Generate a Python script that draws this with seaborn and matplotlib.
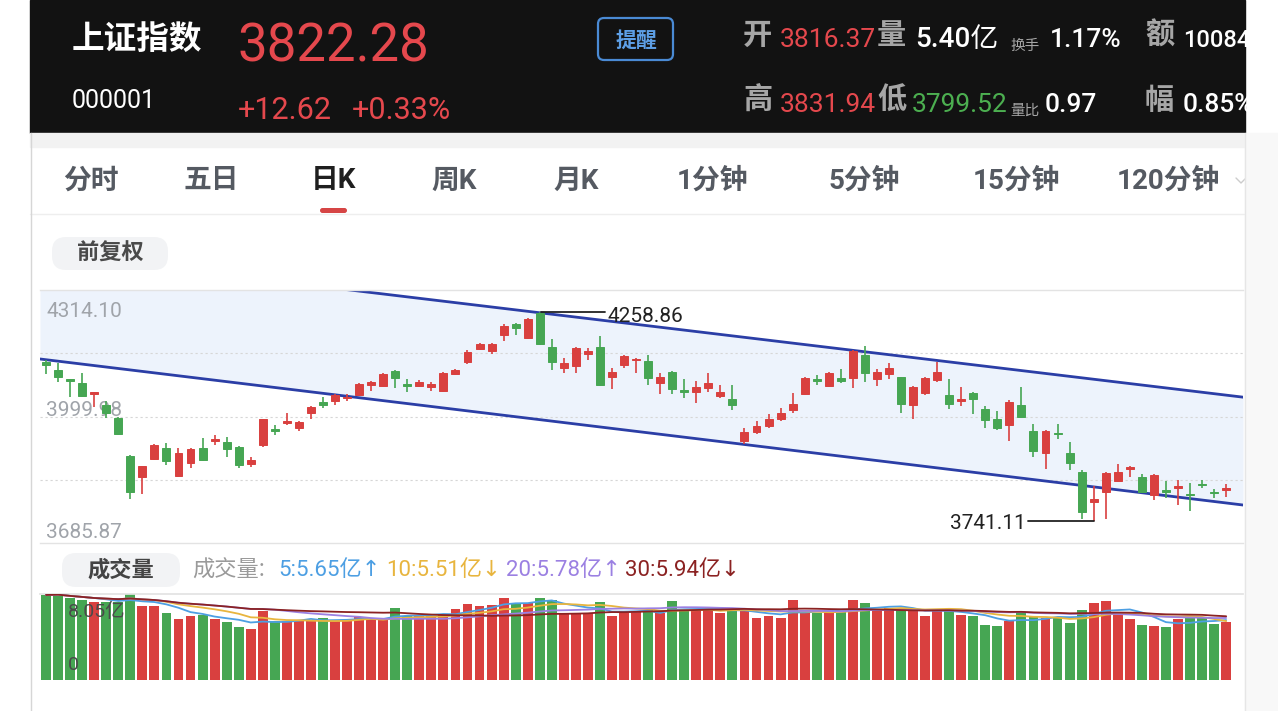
import numpy as np
import pandas as pd
import matplotlib
matplotlib.use('Agg')
import matplotlib.pyplot as plt
import seaborn as sns
from matplotlib.patches import FancyBboxPatch, Rectangle

# daily candles, oldest first
opens = [4135.3, 4115.4, 4093.1, 4083.2, 4055.8, 4028.6, 3997.2, 3901.9, 3849.8, 3894.4,
         3921.8, 3852.2, 3884.5, 3921.8, 3939.1, 3936.6, 3924.2, 3882.0, 3929.2, 3968.9,
         3983.9, 3971.4, 4008.7, 4036.0, 4038.5, 4046.0, 4053.4, 4078.2, 4075.7, 4112.9,
         4080.6, 4075.7, 4073.2, 4063.3, 4105.5, 4135.3, 4167.6, 4162.6, 4202.4, 4229.7,
         4194.9, 4257.0, 4172.6, 4120.4, 4125.4, 4155.2, 4172.6, 4098.0, 4127.9, 4140.3,
         4137.8, 4083.2, 4110.5, 4065.8, 4060.8, 4070.7, 4050.9, 4043.4, 3939.1, 3961.5,
         3976.4, 3993.7, 4016.1, 4055.8, 4093.1, 4075.7, 4095.6, 4095.6, 4152.7, 4093.1,
         4105.5, 4098.0, 4028.6, 4058.3, 4090.6, 4053.4, 4038.5, 4058.3, 4018.6, 3993.7,
         3978.9, 4028.6, 3964.0, 3909.3, 3959.0, 3909.3, 3862.2, 3787.6, 3812.5, 3839.8,
         3869.6, 3849.8, 3804.9, 3817.4, 3822.4, 3807.5, 3832.4, 3812.0, 3816.37]
closes = [4127.9, 4098.0, 4088.1, 4050.9, 4060.8, 4008.7, 3956.5, 3812.5, 3877.1, 3929.2,
          3889.5, 3909.3, 3919.3, 3891.9, 3944.1, 3919.3, 3879.6, 3891.9, 3993.7, 3964.0,
          3988.8, 3986.3, 4023.6, 4028.6, 4053.4, 4048.4, 4080.6, 4085.6, 4105.5, 4095.6,
          4075.7, 4085.6, 4080.6, 4108.0, 4115.4, 4160.2, 4180.0, 4180.0, 4224.9, 4219.8,
          4242.1, 4180.0, 4135.3, 4132.8, 4170.1, 4162.6, 4078.2, 4110.5, 4150.2, 4142.8,
          4095.6, 4098.0, 4068.3, 4060.8, 4073.2, 4083.2, 4060.8, 4028.6, 3961.5, 3976.4,
          3993.7, 4008.7, 4031.0, 4095.6, 4088.1, 4108.0, 4088.1, 4162.6, 4108.0, 4110.5,
          4120.4, 4031.0, 4073.2, 4095.6, 4110.5, 4031.0, 4043.4, 4043.4, 3991.2, 3971.4,
          4036.0, 3998.7, 3914.3, 3964.0, 3956.5, 3884.5, 3762.8, 3795.1, 3859.7, 3862.2,
          3874.6, 3812.5, 3854.8, 3812.5, 3827.4, 3805.0, 3829.9, 3809.66, 3822.28]
highs = [4140.3, 4132.8, 4093.5, 4108.0, 4061.5, 4038.5, 3998.5, 3904.4, 3878.0, 3931.6,
         3934.1, 3921.8, 3921.8, 3946.6, 3954.1, 3949.1, 3925.5, 3899.4, 3995.0, 3978.9,
         4008.7, 3988.0, 4025.0, 4048.4, 4055.8, 4055.8, 4083.2, 4087.0, 4107.0, 4115.4,
         4093.1, 4090.6, 4085.6, 4110.5, 4117.9, 4165.1, 4182.5, 4182.5, 4229.7, 4231.0,
         4244.6, 4258.86, 4192.4, 4145.2, 4172.6, 4170.1, 4199.9, 4120.4, 4152.7, 4145.2,
         4152.7, 4108.0, 4112.9, 4093.1, 4088.1, 4108.0, 4078.2, 4078.2, 3971.4, 3988.8,
         4006.2, 4021.1, 4058.3, 4097.0, 4103.0, 4110.0, 4117.9, 4165.1, 4175.1, 4117.9,
         4132.8, 4099.0, 4075.7, 4098.0, 4135.3, 4093.1, 4073.2, 4060.8, 4026.1, 4013.6,
         4040.9, 4073.2, 3981.3, 3966.4, 3981.3, 3936.6, 3867.1, 3827.4, 3861.0, 3882.0,
         3877.1, 3857.2, 3856.0, 3839.8, 3842.3, 3834.9, 3842.3, 3820.0, 3831.94]
lows = [4105.5, 4085.6, 4048.4, 4048.4, 4023.6, 3996.2, 3954.0, 3795.1, 3807.5, 3891.9,
        3879.6, 3849.8, 3872.1, 3890.0, 3929.2, 3899.4, 3872.1, 3874.6, 3924.2, 3954.1,
        3978.9, 3964.0, 3993.7, 4021.1, 4028.6, 4038.5, 4050.9, 4063.3, 4074.0, 4070.7,
        4060.8, 4073.2, 4063.3, 4062.0, 4103.0, 4130.4, 4165.1, 4155.2, 4187.5, 4202.4,
        4192.4, 4178.0, 4115.4, 4108.0, 4108.0, 4140.3, 4075.7, 4068.3, 4120.4, 4108.0,
        4078.2, 4055.8, 4055.8, 4046.0, 4033.5, 4060.8, 4046.0, 4016.1, 3931.6, 3956.5,
        3971.4, 3988.8, 4008.7, 4053.4, 4078.2, 4073.2, 4083.2, 4070.7, 4085.6, 4075.7,
        4093.1, 4008.7, 3993.7, 4053.4, 4085.6, 4018.6, 4026.1, 4006.2, 3971.4, 3966.4,
        3939.1, 3996.2, 3899.4, 3869.6, 3944.1, 3867.1, 3745.5, 3741.11, 3745.0, 3837.3,
        3849.8, 3811.0, 3792.6, 3797.6, 3780.2, 3765.3, 3822.4, 3797.6, 3799.52]
# volume in 亿
volumes = [7.96, 8.02, 7.64, 7.49, 7.27, 7.33, 7.27, 8.05, 6.92, 6.92,
           6.23, 5.69, 6.01, 6.07, 5.69, 5.44, 4.97, 4.75, 6.48, 5.50,
           5.50, 5.54, 5.57, 5.82, 5.60, 5.63, 5.91, 5.69, 5.69, 6.76,
           6.01, 6.01, 5.98, 6.13, 6.64, 7.08, 6.92, 7.01, 7.71, 7.17,
           7.17, 7.71, 7.49, 6.23, 6.23, 6.23, 7.33, 5.98, 6.23, 6.38,
           6.54, 6.23, 7.39, 6.54, 6.54, 6.70, 6.23, 6.60, 6.54, 5.82,
           6.01, 5.76, 7.49, 6.54, 6.23, 6.23, 6.38, 7.49, 7.17, 6.54,
           6.70, 6.54, 6.70, 6.01, 6.54, 6.54, 6.07, 5.98, 5.19, 5.03,
           5.50, 6.38, 5.91, 5.82, 5.91, 5.38, 6.54, 7.17, 7.39, 6.23,
           5.69, 5.13, 5.06, 4.97, 5.69, 5.91, 5.76, 5.28, 5.40]

# hand-drawn channel (values at the two ends of the x range)
channel_x = [-0.5, 99.4]
channel_upper = [4406.5, 4048.0]
channel_lower = [4142.8, 3780.2]

price_top, price_bottom = 4314.10, 3685.87
vol_max = 8.05

tabs = ['分时', '五日', '日K', '周K', '月K', '1分钟', '5分钟', '15分钟', '120分钟']
tab_x = [91, 211, 333, 454, 576, 712, 864, 1016, 1168]

ma_periods = [5, 10, 20, 30]
ma_colors = ['#4d9fe3', '#e8b53e', '#9b80e2', '#8b2222']
ma_labels = ['5:5.65亿↑', '10:5.51亿↓', '20:5.78亿↑', '30:5.94亿↓']
ma_label_x = [278, 386, 506, 625]

RED = '#d9403f'
GREEN = '#46a653'

sns.set_theme(style='white')
CJK = ['Noto Sans CJK SC', 'DejaVu Sans']
NUM = ['Roboto', 'Noto Sans CJK SC', 'DejaVu Sans']
ARROWNUM = ['Roboto', 'DejaVu Sans', 'Noto Sans CJK SC']
plt.rcParams['font.family'] = NUM

W, H = 1278, 711
fig = plt.figure(figsize=(W / 100, H / 100), dpi=100, facecolor='white')


def box(x0, y0, x1, y1):
    return [x0 / W, 1 - y1 / H, (x1 - x0) / W, (y1 - y0) / H]


# ---- background layer in pixel coordinates
bg = fig.add_axes([0, 0, 1, 1], zorder=0)
bg.set_xlim(0, W)
bg.set_ylim(H, 0)
bg.axis('off')

header = Rectangle((30, 0), 1215, 133, color='#121212', zorder=1)
bg.add_patch(header)
bg.add_patch(Rectangle((30, 133), 1215, 14, color='#f2f2f2', zorder=1))
bg.plot([30, 1245], [213.5, 213.5], color='#eeeeee', lw=1, zorder=1)
bg.plot([1236, 1241, 1246], [178, 183, 178], color='#cccccc', lw=1, zorder=1)
bg.add_patch(Rectangle((1245, 133), 33, 578, color='#f8f8f8', zorder=2))
bg.plot([1245, 1245], [133, 711], color='#e6e6e6', lw=1, zorder=2)
bg.plot([30.5, 30.5], [133, 711], color='#d6d6d6', lw=1, zorder=2)


def htext(x, y, s, **kw):
    t = bg.text(x, y, s, zorder=3, **kw)
    t.set_clip_path(header)
    return t


htext(72, 40, '上证指数', color='white', fontsize=23.5, weight='bold', family=CJK, va='center')
htext(238, 62, '3822.28', color='#e5484d', fontsize=38, family=NUM, va='baseline')
htext(72, 108, '000001', color='white', fontsize=18, family=NUM, va='baseline')
htext(238, 119, '+12.62', color='#e5484d', fontsize=22, family=NUM, va='baseline')
htext(352, 119, '+0.33%', color='#e5484d', fontsize=22, family=NUM, va='baseline')
bg.add_patch(FancyBboxPatch((598, 18), 75, 42, boxstyle='round,pad=0,rounding_size=6',
                            fc='none', ec='#4a8ad4', lw=1.6, zorder=3))
htext(636, 40, '提醒', color='#5d9fe6', fontsize=15, weight='bold', family=CJK, va='center', ha='center')

GREY_H = '#a6a6a6'
for y, items in [(47, [(743, '开', GREY_H, 21, CJK), (780, '3816.37', '#e5484d', 19, NUM),
                       (877, '量', GREY_H, 21, CJK), (915, '5.40亿', 'white', 20, NUM),
                       (1010, '换手', GREY_H, 10.5, CJK), (1050, '1.17%', 'white', 19, NUM),
                       (1145, '额', GREY_H, 21, CJK), (1183, '10084', 'white', 17, NUM)]),
                 (112, [(743, '高', GREY_H, 21, CJK), (780, '3831.94', '#e5484d', 19, NUM),
                        (877, '低', GREY_H, 21, CJK), (912, '3799.52', '#4caf50', 19, NUM),
                        (1010, '量比', GREY_H, 10.5, CJK), (1045, '0.97', 'white', 19, NUM),
                        (1145, '幅', GREY_H, 21, CJK), (1183, '0.85%', 'white', 19, NUM)])]:
    for x, s, c, fs, fam in items:
        if fam is CJK and fs > 15:
            htext(x, y - 12, s, color=c, fontsize=fs, weight='bold', family=fam, va='center')
        elif fam is CJK:
            htext(x, y + 3, s, color=c, fontsize=fs, family=fam, va='baseline')
        else:
            htext(x, y, s, color=c, fontsize=fs, family=fam, va='baseline',
                  weight='medium' if c == 'white' else 'normal')

for s, x in zip(tabs, tab_x):
    sel = s == '日K'
    bg.text(x, 181, s, color='#1f1f1f' if sel else '#555a62', fontsize=20,
            weight='bold', family=NUM, ha='center', va='center', zorder=3)
bg.add_patch(FancyBboxPatch((320, 208), 27, 5, boxstyle='round,pad=0,rounding_size=2.5',
                            fc='#d64545', ec='none', zorder=3))

bg.add_patch(FancyBboxPatch((52, 237), 116, 33, boxstyle='round,pad=0,rounding_size=14',
                            fc='#f2f3f5', ec='none', zorder=3))
bg.text(110, 253, '前复权', color='#4a4a4a', fontsize=16, weight='bold', family=CJK,
        ha='center', va='center', zorder=4)
bg.add_patch(FancyBboxPatch((62, 553), 118, 34, boxstyle='round,pad=0,rounding_size=14',
                            fc='#f2f3f5', ec='none', zorder=3))
bg.text(121, 570, '成交量', color='#444444', fontsize=16, weight='bold', family=CJK,
        ha='center', va='center', zorder=4)
bg.text(192, 570, '成交量:', color='#9a9a9a', fontsize=16, family=CJK, va='center', zorder=4)
for s, x, c in zip(ma_labels, ma_label_x, ma_colors):
    bg.text(x, 570, s, color=c, fontsize=16, family=ARROWNUM, va='center', zorder=4)

# ---- price panel
idx = np.arange(len(opens))
o = np.array(opens)
c = np.array(closes)
up = c >= o
colors = np.where(up, RED, GREEN)

ax = fig.add_axes(box(40, 290, 1243, 543), zorder=1)
ax.set_facecolor('none')
ax.fill_between(channel_x, channel_upper, channel_lower, color='#edf3fc', lw=0, zorder=0)
for v in np.linspace(price_bottom, price_top, 5)[1:-1]:
    ax.axhline(v, color='#d6d6d6', lw=0.8, ls=(0, (2, 2.5)), zorder=0.5)
ax.plot(channel_x, channel_upper, color='#2b3ea6', lw=2, zorder=2)
ax.plot(channel_x, channel_lower, color='#2b3ea6', lw=2, zorder=2)

for s, yf in [('4314.10', 0.915), ('3999.98', 0.524), ('3685.87', 0.043)]:
    ax.text(0.005, yf, s, transform=ax.transAxes, color='#a0a4aa', fontsize=15,
            family=NUM, va='center', zorder=1)

ax.vlines(idx, lows, highs, colors=colors, lw=1.2, zorder=3)
ax.bar(idx, np.abs(c - o), bottom=np.minimum(o, c), width=0.66, color=colors,
       edgecolor=colors, linewidth=0.7, zorder=4)

imax = int(np.argmax(highs))
ax.plot([imax + 0.1, imax + 5.4], [highs[imax]] * 2, color='#222222', lw=1.3, zorder=5)
ax.annotate(f'{highs[imax]:.2f}', xy=(imax + 5.6, highs[imax]), xytext=(0, -3),
            textcoords='offset points', va='center', ha='left', fontsize=15,
            color='#222222', family=NUM, zorder=5)
imin = int(np.argmin(lows))
ax.plot([imin - 5.45, imin], [lows[imin]] * 2, color='#222222', lw=1.3, zorder=5)
ax.annotate(f'{lows[imin]:.2f}', xy=(imin - 5.6, lows[imin]), xytext=(0, -2),
            textcoords='offset points', va='center', ha='right', fontsize=15,
            color='#222222', family=NUM, zorder=5)

ax.set_xlim(-0.5, 99.4)
ax.set_ylim(price_bottom, price_top)
ax.set_xticks([])
ax.set_yticks([])
for side in ['left', 'right']:
    ax.spines[side].set_visible(False)
for side in ['top', 'bottom']:
    ax.spines[side].set_color('#e3e3e3')
    ax.spines[side].set_linewidth(1)

# ---- volume panel
vax = fig.add_axes(box(40, 594, 1243, 680), zorder=1)
vax.set_facecolor('none')
vol_df = pd.DataFrame({'day': idx, 'vol': volumes,
                       'dir': np.where(up, 'up', 'down')})
sns.barplot(data=vol_df, x='day', y='vol', hue='dir', palette={'up': RED, 'down': GREEN},
            native_scale=True, width=0.82, dodge=False, legend=False, saturation=1,
            errorbar=None, linewidth=0, ax=vax)
vs = pd.Series(volumes)
for n, col in zip(ma_periods, ma_colors):
    sns.lineplot(x=idx, y=vs.rolling(n, min_periods=1).mean().values, color=col,
                 lw=1.3, ax=vax, zorder=3)
vax.text(0.023, 0.79, '8.05亿', transform=vax.transAxes, color='#4a4a4a', fontsize=14,
         family=NUM, va='center', zorder=6)
vax.text(0.023, 0.174, '0', transform=vax.transAxes, color='#4a4a4a', fontsize=14,
         family=NUM, va='center', zorder=6)
vax.set_xlim(-0.5, 99.4)
vax.set_ylim(0, vol_max)
vax.set_xticks([])
vax.set_yticks([])
vax.set_xlabel('')
vax.set_ylabel('')
for side in ['left', 'right', 'bottom']:
    vax.spines[side].set_visible(False)
vax.spines['top'].set_color('#e3e3e3')

fig.savefig('out.png', dpi=100, facecolor='white')
